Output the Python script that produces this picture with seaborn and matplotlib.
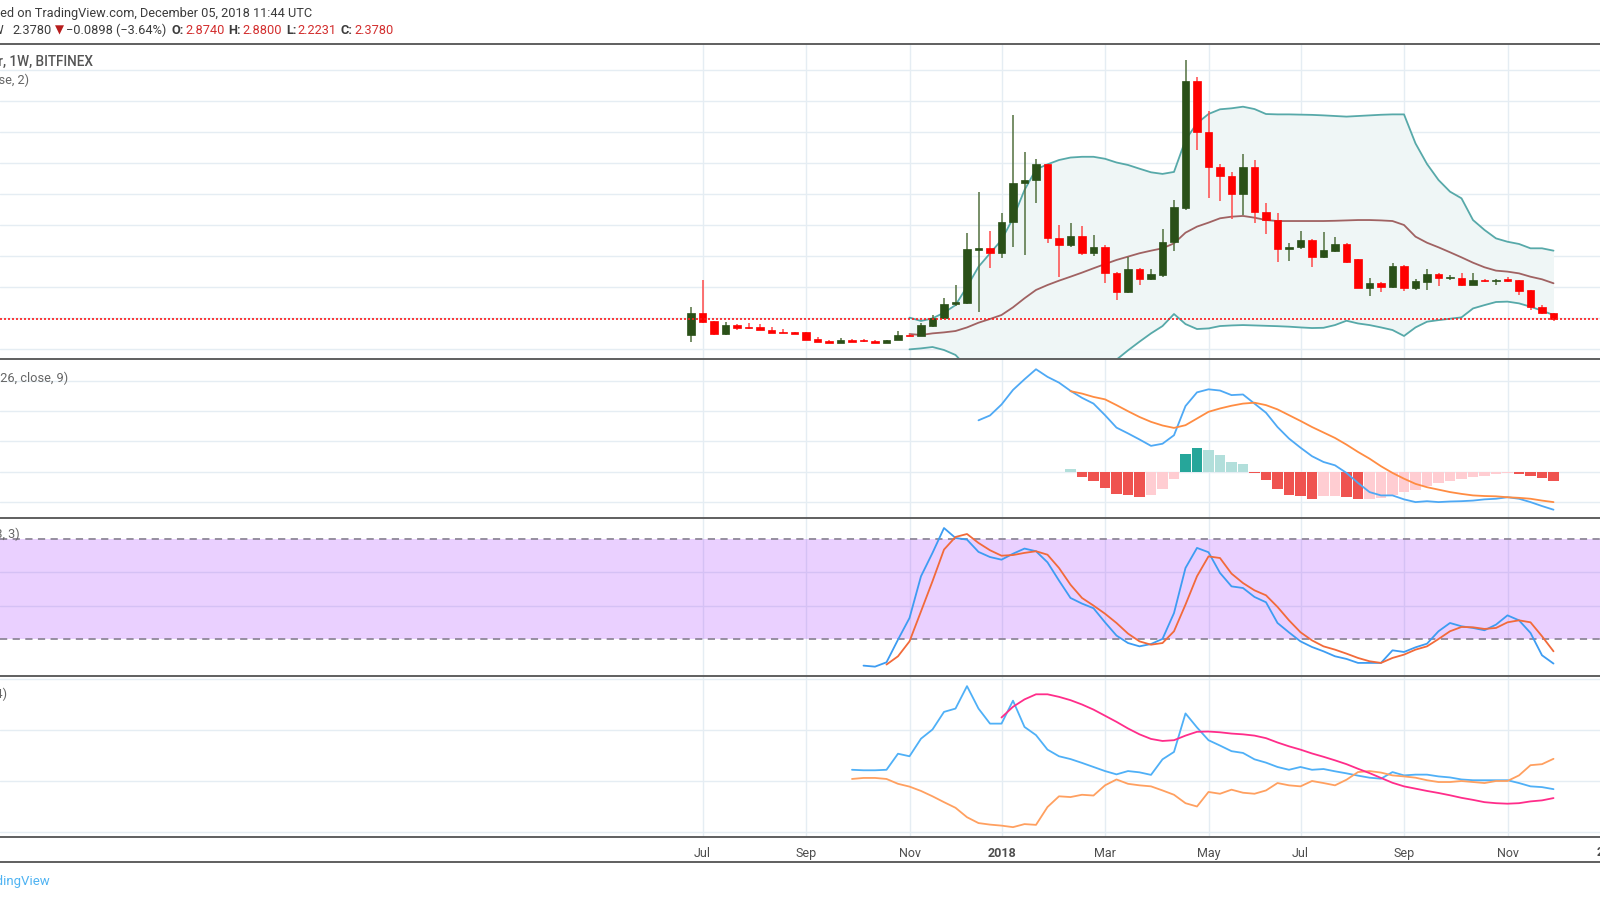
import numpy as np
import pandas as pd
import matplotlib.pyplot as plt
import seaborn as sns
from matplotlib.lines import Line2D

# Weekly EOS/USD bars on Bitfinex, bar 0 = week of 2017-06-26, bar 75 = week of 2018-12-03
opens = [1.09, 2.89, 2.22, 1.17, 1.90, 1.72, 1.70, 1.51, 1.32, 1.33,
         1.33, 0.76, 0.63, 0.46, 0.70, 0.65, 0.63, 0.47, 0.70, 1.10,
         1.04, 1.81, 2.43, 3.56, 3.64, 7.95, 8.08, 7.68, 10.18, 13.32,
         13.59, 14.85, 8.89, 8.35, 9.07, 7.73, 8.16, 6.10, 4.58, 6.44,
         5.58, 5.93, 8.56, 11.30, 21.60, 17.48, 14.61, 13.94, 12.46, 14.66,
         10.98, 10.36, 8.02, 8.15, 8.75, 7.35, 7.85, 8.43, 7.19, 4.90,
         5.31, 4.95, 6.68, 4.85, 5.40, 6.01, 5.71, 5.71, 5.12, 5.55,
         5.45, 5.60, 5.52, 4.72, 3.37, 2.874]
highs = [3.32, 5.52, 2.25, 2.16, 1.95, 2.03, 1.98, 1.75, 1.57, 1.36,
         1.35, 0.90, 0.70, 0.85, 0.74, 0.76, 0.65, 0.71, 1.41, 1.15,
         2.03, 2.70, 4.10, 5.12, 9.34, 12.62, 9.48, 10.95, 18.80, 15.82,
         15.28, 14.90, 9.96, 10.15, 9.88, 9.13, 8.35, 6.20, 7.40, 6.50,
         6.44, 9.64, 11.98, 23.27, 21.87, 19.15, 14.90, 14.20, 15.66, 15.20,
         11.71, 10.90, 8.53, 9.50, 8.80, 9.42, 9.02, 8.50, 7.20, 5.66,
         5.35, 6.87, 6.70, 5.58, 6.39, 6.10, 5.95, 6.06, 6.06, 5.60,
         5.58, 5.75, 5.55, 4.75, 3.50, 2.880]
lows = [0.55, 2.08, 1.11, 1.11, 1.49, 1.60, 1.48, 1.25, 1.25, 1.15,
        0.67, 0.50, 0.44, 0.44, 0.53, 0.56, 0.43, 0.45, 0.66, 0.98,
        1.00, 1.70, 2.40, 3.45, 3.60, 2.97, 6.52, 7.27, 8.21, 7.54,
        11.76, 8.48, 5.79, 8.20, 7.54, 7.47, 5.26, 3.91, 4.50, 5.12,
        5.50, 5.79, 7.89, 11.20, 16.00, 12.11, 11.90, 10.42, 10.77, 10.10,
        9.21, 6.95, 7.08, 8.00, 6.60, 7.30, 7.80, 6.90, 4.85, 4.23,
        4.58, 4.90, 4.66, 4.70, 4.72, 5.04, 5.55, 5.04, 5.10, 5.40,
        5.14, 5.40, 4.31, 3.10, 2.80, 2.2231]
closes = [2.89, 2.16, 1.17, 1.90, 1.68, 1.62, 1.52, 1.27, 1.28, 1.19,
          0.69, 0.52, 0.47, 0.69, 0.55, 0.58, 0.45, 0.68, 1.09, 1.03,
          1.90, 2.43, 3.56, 3.72, 8.00, 8.10, 7.68, 10.23, 13.32, 13.59,
          14.85, 8.89, 8.35, 9.07, 7.73, 8.16, 6.06, 4.58, 6.44, 5.58,
          6.01, 8.56, 11.39, 21.60, 17.48, 14.61, 13.94, 12.46, 14.66, 10.98,
          10.36, 8.02, 8.20, 8.75, 7.35, 7.94, 8.43, 7.00, 4.90, 5.31,
          4.95, 6.68, 4.85, 5.47, 6.01, 5.71, 5.78, 5.12, 5.52, 5.45,
          5.52, 5.44, 4.66, 3.37, 2.89, 2.378]
last_close = 2.378

# Bollinger Bands (20, close, 2), from bar 19
bb_start = 19
bb_basis = [1.17, 1.09, 1.22, 1.30, 1.41, 1.70, 2.08, 2.38, 2.70, 3.32,
            4.05, 4.72, 5.12, 5.47, 5.79, 6.12, 6.47, 6.81, 7.14, 7.41,
            7.68, 7.89, 8.08, 8.48, 9.34, 9.83, 10.15, 10.50, 10.63, 10.69,
            10.55, 10.36, 10.28, 10.28, 10.28, 10.28, 10.28, 10.30, 10.33, 10.36,
            10.36, 10.33, 10.28, 9.96, 9.02, 8.53, 8.16, 7.76, 7.35, 6.92,
            6.55, 6.28, 6.20, 6.06, 5.79, 5.58, 5.26]
bb_upper = [2.49, 2.22, 2.43, 2.89, 3.50, 4.98, 6.59, 7.67, 8.75, 10.50,
            12.78, 14.45, 14.85, 15.20, 15.40, 15.46, 15.46, 15.30, 15.00, 14.80,
            14.50, 14.21, 14.08, 14.24, 16.82, 18.16, 18.91, 19.29, 19.37, 19.50,
            19.31, 18.91, 18.88, 18.88, 18.86, 18.84, 18.80, 18.75, 18.70, 18.75,
            18.80, 18.85, 18.88, 18.88, 16.54, 14.88, 13.59, 12.65, 12.11, 10.36,
            9.56, 8.88, 8.61, 8.43, 8.08, 8.08, 7.89]
bb_lower = [-0.07, 0.01, 0.12, -0.12, -0.52, -1.5, -2.5, -3.0, -3.4, -3.6,
            -4.0, -4.2, -4.0, -3.7, -3.4, -3.0, -2.6, -2.0, -0.9, -0.15,
            0.55, 1.22, 1.81, 2.78, 1.97, 1.57, 1.62, 1.81, 1.86, 1.89,
            1.86, 1.83, 1.80, 1.76, 1.70, 1.65, 1.67, 1.89, 2.24, 2.02,
            1.89, 1.70, 1.49, 1.01, 1.70, 2.16, 2.29, 2.40, 2.51, 3.23,
            3.50, 3.75, 3.78, 3.64, 3.37, 3.05, 2.70]

# MACD (12, 26, close, 9)
macd_start = 25
macd_line = [1.69, 1.85, 2.21, 2.69, 3.04, 3.37, 3.12, 2.93, 2.66, 2.43,
             2.24, 1.86, 1.45, 1.26, 1.06, 0.85, 0.92, 1.20, 2.16, 2.61,
             2.71, 2.67, 2.52, 2.54, 2.24, 1.94, 1.47, 1.09, 0.79, 0.51,
             0.32, 0.21, -0.04, -0.37, -0.67, -0.78, -0.78, -0.91, -1.00, -0.97,
             -1.00, -0.98, -0.97, -0.95, -0.91, -0.89, -0.84, -0.89, -1.00, -1.13,
             -1.25]
signal_start = 33
signal_line = [2.65, 2.57, 2.46, 2.38, 2.19, 1.99, 1.80, 1.64, 1.52, 1.44,
               1.53, 1.75, 1.97, 2.08, 2.17, 2.24, 2.27, 2.19, 2.05, 1.86,
               1.67, 1.47, 1.29, 1.11, 0.89, 0.65, 0.43, 0.18, -0.04, -0.23,
               -0.40, -0.51, -0.59, -0.67, -0.73, -0.78, -0.80, -0.81, -0.84, -0.86,
               -0.89, -0.95, -1.00]
hist_start = 33
macd_hist = [0.08, -0.18, -0.32, -0.52, -0.74, -0.77, -0.82, -0.78, -0.57, -0.24,
             0.58, 0.79, 0.73, 0.55, 0.31, 0.24, -0.04, -0.27, -0.58, -0.76,
             -0.81, -0.89, -0.81, -0.80, -0.82, -0.91, -0.90, -0.86, -0.78, -0.67,
             -0.59, -0.48, -0.37, -0.31, -0.23, -0.18, -0.14, -0.09, -0.05, -0.09,
             -0.15, -0.21, -0.29]

# Stoch (14, 3, 3)
stoch_k_start = 15
stoch_k = [3.76, 3.15, 5.77, 19.45, 32.5, 57.7, 71.8, 86.8, 80.8, 79.8,
           72.4, 69.3, 67.7, 71.3, 74.4, 72.8, 66.1, 55.1, 44.6, 41.2,
           38.4, 29.9, 21.9, 17.4, 15.4, 16.8, 19.9, 35.5, 62.7, 74.8,
           72.2, 59.7, 51.6, 50.6, 45.2, 42.0, 29.5, 23.8, 18.4, 15.0,
           12.4, 9.4, 7.8, 5.4, 5.4, 5.4, 13.0, 12.0, 14.8, 17.0,
           24.5, 29.5, 27.5, 26.5, 25.1, 28.5, 34.1, 31.1, 23.5, 10.0,
           5.0]
stoch_d_start = 17
stoch_d = [4.4, 9.4, 18.4, 36.5, 54.7, 73.8, 81.4, 83.2, 77.8, 73.4,
           70.1, 70.5, 71.8, 72.8, 70.7, 62.7, 52.6, 44.6, 40.0, 35.1,
           29.5, 23.1, 18.4, 16.4, 17.4, 24.5, 40.6, 57.7, 69.7, 68.7,
           59.3, 53.6, 49.2, 46.2, 39.2, 31.1, 23.9, 19.0, 15.4, 13.4,
           11.0, 8.4, 6.4, 5.4, 8.4, 10.4, 13.4, 15.4, 19.8, 24.5,
           27.1, 26.9, 25.9, 26.5, 29.9, 31.1, 29.9, 21.5, 12.4]

# DMI (14, 14)
dmi_start = 14
plus_di = [24.4, 24.2, 24.2, 24.4, 30.7, 29.7, 36.6, 40.2, 47.1, 48.4,
           57.2, 48.4, 42.5, 42.5, 51.5, 41.2, 38.0, 32.3, 29.7, 28.6,
           27.1, 25.5, 23.9, 22.6, 23.9, 23.4, 22.4, 28.5, 31.4, 46.5,
           41.0, 36.0, 33.9, 31.7, 31.0, 28.5, 27.2, 25.5, 24.4, 25.5,
           24.4, 24.7, 23.8, 23.0, 22.1, 21.3, 20.9, 23.5, 22.2, 22.5,
           22.5, 21.8, 21.4, 20.6, 20.3, 20.3, 20.3, 20.3, 19.2, 17.9,
           17.6, 16.8]
minus_di = [20.8, 21.2, 21.2, 20.8, 18.9, 17.8, 16.1, 14.0, 11.7, 9.5,
            5.8, 3.5, 2.9, 2.5, 1.9, 3.1, 2.8, 9.8, 14.0, 13.7,
            14.6, 14.3, 18.3, 20.6, 18.9, 18.3, 17.9, 16.3, 14.6, 11.3,
            10.0, 15.7, 15.0, 16.6, 15.4, 15.0, 16.3, 19.2, 18.3, 17.9,
            20.0, 19.2, 18.3, 20.5, 23.5, 23.9, 23.3, 22.2, 21.8, 21.3,
            20.3, 19.6, 19.6, 20.0, 19.6, 19.2, 20.0, 20.0, 22.2, 26.2,
            26.6, 28.7]
adx_start = 27
adx = [44.9, 49.1, 52.0, 54.0, 54.0, 53.0, 51.7, 50.0, 48.0, 45.6,
       43.2, 40.6, 38.3, 36.5, 35.7, 36.0, 37.8, 39.3, 39.4, 39.1,
       38.6, 38.3, 37.8, 36.8, 35.1, 33.6, 32.3, 30.8, 29.5, 28.1,
       26.6, 24.8, 23.1, 21.2, 19.3, 17.9, 17.0, 16.1, 15.3, 14.4,
       13.4, 12.6, 11.7, 11.3, 11.1, 11.3, 12.0, 12.4, 13.3]

# time axis: bar index of the first week of each labelled month
month_idx = [1, 10, 19, 27, 36, 45, 53, 62, 71, 80]
month_labels = ['Jul', 'Sep', 'Nov', '2018', 'Mar', 'May', 'Jul', 'Sep', 'Nov', '2019']

sns.set_style("white")
plt.rcParams['font.family'] = ['Roboto', 'DejaVu Sans']

W, H = 1600, 900
fig = plt.figure(figsize=(16, 9), dpi=100)

grid_c = '#e5edf3'
sep_c = '#5f5f5f'
x_lo, x_hi = -691 / 11.5, (W - 691) / 11.5


def panel(top_px, bot_px):
    ax = fig.add_axes([0, 1 - bot_px / H, 1, (bot_px - top_px) / H])
    ax.set_xlim(x_lo, x_hi)
    for s in ax.spines.values():
        s.set_visible(False)
    ax.set_xticks(month_idx)
    ax.tick_params(length=0, labelbottom=False, labelleft=False)
    ax.grid(True, color=grid_c, lw=1)
    ax.set_axisbelow(True)
    return ax


def series(start, vals):
    return np.arange(start, start + len(vals)), np.array(vals)


# ---------------- main price panel ----------------
ax1 = panel(44, 359)
ylim1 = (-(359 - 348.5) / 12.4, (348.5 - 44) / 12.4)
ax1.set_yticks(np.arange(0, 25, 2.5))

bx, basis = series(bb_start, bb_basis)
_, up_b = series(bb_start, bb_upper)
_, lo_b = series(bb_start, bb_lower)
ax1.fill_between(bx, lo_b, up_b, color='#eff6f6', zorder=1, lw=0)
sns.lineplot(x=bx, y=up_b, ax=ax1, color='#57a9a9', lw=1.3, errorbar=None, zorder=2)
sns.lineplot(x=bx, y=lo_b, ax=ax1, color='#57a9a9', lw=1.3, errorbar=None, zorder=2)
sns.lineplot(x=bx, y=basis, ax=ax1, color='#a06262', lw=1.3, errorbar=None, zorder=2)

o, hi, lo, c = map(np.array, (opens, highs, lows, closes))
idx = np.arange(len(c))
up = c >= o
ax1.vlines(idx[up], lo[up], hi[up], color='#52703f', lw=1.1, zorder=3)
ax1.vlines(idx[~up], lo[~up], hi[~up], color='#ff4a4a', lw=1.1, zorder=3)
body = np.maximum(np.abs(c - o), 0.08)
body_c = np.where(up, '#2a5018', '#ff0000')
ax1.bar(idx, body, bottom=np.minimum(o, c), width=0.64, color=body_c,
        edgecolor=body_c, lw=0.5, zorder=4)
ax1.axhline(last_close, color='#ff1a1a', ls=(0, (1.2, 1.2)), lw=1.2, zorder=5)

# ---------------- MACD panel ----------------
ax2 = panel(359, 518)
ylim2 = (-(518 - 471.7) / 30.4, (471.7 - 359) / 30.4)
ax2.set_yticks([-1, 0, 1, 2, 3])
hx, hv = series(hist_start, macd_hist)
prev = np.concatenate([[hv[0]], hv[:-1]])
hcol = np.where(hv >= 0, np.where(hv > prev, '#26a69a', '#b2dfdb'),
                np.where(hv < prev, '#ef5350', '#ffcdd2'))
ax2.bar(hx, hv, width=0.88, color=hcol, lw=0, zorder=2)
mx, mv = series(macd_start, macd_line)
sx, sv = series(signal_start, signal_line)
sns.lineplot(x=mx, y=mv, ax=ax2, color='#4ea9f5', lw=1.3, errorbar=None, zorder=3)
sns.lineplot(x=sx, y=sv, ax=ax2, color='#ff8c42', lw=1.3, errorbar=None, zorder=3)

# ---------------- Stoch panel ----------------
ax3 = panel(518, 676)
ylim3 = (80 - (676 - 539.3) / 1.657, 80 + (539.3 - 518) / 1.657)
ax3.set_yticks([40, 60])
ax3.axhspan(20, 80, color='#9915ff', alpha=0.2, lw=0, zorder=1)
for lvl in (20, 80):
    ax3.axhline(lvl, color='#8f8799', ls=(0, (4, 3)), lw=1.3, zorder=2)
kx, kv = series(stoch_k_start, stoch_k)
dx, dv = series(stoch_d_start, stoch_d)
sns.lineplot(x=kx, y=kv, ax=ax3, color='#3d9cf2', lw=1.3, errorbar=None, zorder=3)
sns.lineplot(x=dx, y=dv, ax=ax3, color='#f26a3a', lw=1.3, errorbar=None, zorder=3)

# ---------------- DMI panel ----------------
ax4 = panel(676, 837)
ylim4 = (-(837 - 832) / 2.55, (832 - 676) / 2.55)
ax4.set_yticks([0, 20, 40, 60])
px_, pv = series(dmi_start, plus_di)
nx_, nv = series(dmi_start, minus_di)
ax_, av = series(adx_start, adx)
sns.lineplot(x=px_, y=pv, ax=ax4, color='#4fb0f7', lw=1.3, errorbar=None, zorder=3)
sns.lineplot(x=nx_, y=nv, ax=ax4, color='#ffa060', lw=1.3, errorbar=None, zorder=3)
sns.lineplot(x=ax_, y=av, ax=ax4, color='#ff2d8a', lw=1.3, errorbar=None, zorder=3)
ax4.set_xticks(month_idx)
ax4.set_xticklabels(month_labels)
ax4.tick_params(axis='x', which='major', length=3, width=1, color='#777777',
                direction='out', labelbottom=True, pad=4, labelsize=9,
                labelcolor='#4d4d4d')
for t in ax4.get_xticklabels():
    if t.get_text() in ('2018', '2019'):
        t.set_fontweight('bold')

for ax, yl in ((ax1, ylim1), (ax2, ylim2), (ax3, ylim3), (ax4, ylim4)):
    ax.set_xlim(x_lo, x_hi)
    ax.set_ylim(*yl)
    ax.set_xlabel('')
    ax.set_ylabel('')

# the last month label sits just past the right edge; matplotlib skips ticks
# outside the view, so place that one label by hand on the same axis
ax4.text(month_idx[-1], -(852 - 837) / 161, month_labels[-1],
         transform=ax4.get_xaxis_transform(), ha='center', va='center',
         fontsize=9, color='#4d4d4d', fontweight='bold', clip_on=False)

# separators
for ypx in (44, 359, 518, 676, 837, 862):
    fig.add_artist(Line2D([0, 1], [1 - ypx / H] * 2, transform=fig.transFigure,
                          color=sep_c, lw=1.4))

fig.canvas.draw()
renderer = fig.canvas.get_renderer()


def ftext(xpx, ypx, s, **kw):
    kw.setdefault('fontsize', 9.2)
    kw.setdefault('va', 'center')
    return fig.text(xpx / W, 1 - ypx / H, s, **kw)


def text_w(s, **kw):
    t = ftext(0, -100, s, **kw)
    w = t.get_window_extent(renderer).width
    t.remove()
    return w


def cut_text(vis_x, ypx, hidden, shown, **kw):
    # full label whose first part runs off the left edge, as in the screenshot
    w = text_w(hidden, **kw)
    return ftext(vis_x - w, ypx, hidden + shown, **kw)


def chain(x0, ypx, parts):
    x = x0
    for s, gap, kw in parts:
        x += gap
        t = ftext(x, ypx, s, **kw)
        x = t.get_window_extent(renderer).x1


dark = '#3c3c3c'
red = '#d32f2f'
cut_text(0, 13, 'Publish', 'ed on TradingView.com, December 05, 2018 11:44 UTC', color=dark)
ftext(4, 30.5, 'EOSUSD, 1W', ha='right', color=dark)
chain(12.7, 30.5, [
    ('2.3780', 0, dict(color=dark)),
    ('\u25bc', 3.5, dict(color='#b71c1c', family=['DejaVu Sans'], fontsize=8.5)),
    ('\u22120.0898 (\u22123.64%)', 2.0, dict(color=dark)),
    ('O:', 4.5, dict(color=dark, fontweight='bold')),
    ('2.8740', 1.5, dict(color=red)),
    ('H:', 4.0, dict(color=dark, fontweight='bold')),
    ('2.8800', 1.5, dict(color=red)),
    ('L:', 4.0, dict(color=dark, fontweight='bold')),
    ('2.2231', 1.5, dict(color=red)),
    ('C:', 4.0, dict(color=dark, fontweight='bold')),
    ('2.3780', 1.5, dict(color=red)),
])

# indicator titles
cut_text(-1.5, 61.5, 'EOS / Dolla', 'r, 1W, BITFINEX', color='#555555',
         fontweight='medium', fontsize=9.8)
cut_text(-1.0, 80, 'BB (20, clo', 'se, 2)', color='#666666')
cut_text(0, 378, 'MACD (12, ', '26, close, 9)', color='#666666')
ftext(19.5, 534, 'Stoch (14, 3, 3)', ha='right', color='#666666')
ftext(7, 694, 'DMI (14, 14)', ha='right', color='#666666')
ftext(50.5, 882, 'TradingView', ha='right', color='#4fb3f2', fontsize=9.5)

fig.savefig('out.png', dpi=100)
